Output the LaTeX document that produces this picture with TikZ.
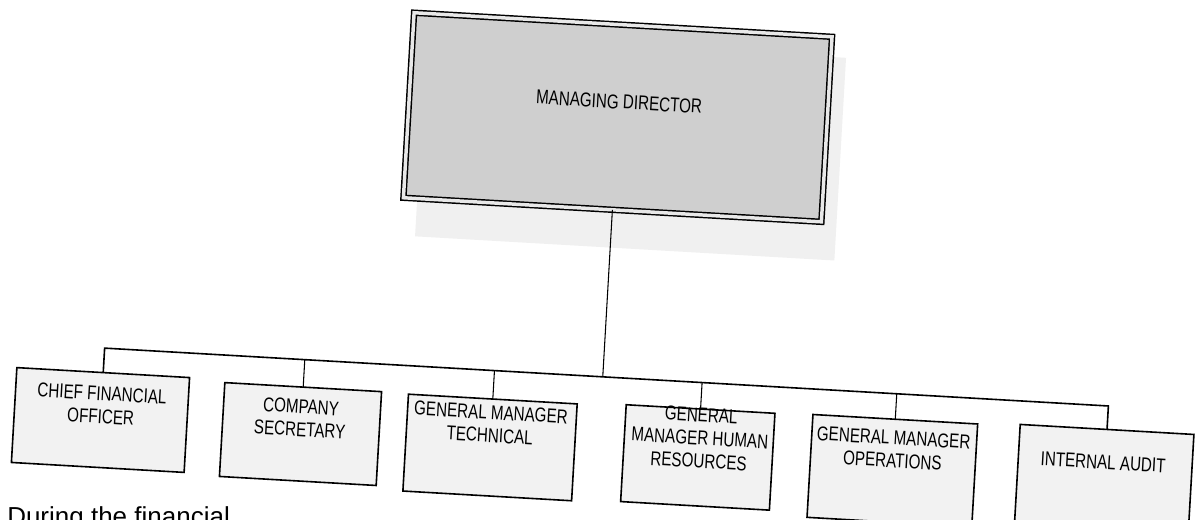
\documentclass[tikz,border=0pt]{standalone}
\usepackage{fontspec}
\setmainfont{Liberation Sans}
\newfontfamily\boxfont[FakeStretch=0.76]{Liberation Sans}
\begin{document}
\begin{tikzpicture}[x=0.75pt,y=-0.75pt,
  mdbox/.style={draw=black, line width=1.1pt, double=gray!18, double distance=2.6pt,
    fill=gray!38, inner sep=0pt, outer sep=0pt},
  shadowbox/.style={fill=gray!12},
  childbox/.style={draw=black, line width=1.2pt, fill=gray!10, inner sep=0pt, outer sep=0pt},
  boxtext/.style={font=\boxfont\fontsize{15}{17.25}\selectfont, align=center, inner sep=0pt},
  conn/.style={draw=black, line width=0.8pt},
  busline/.style={draw=black, line width=1.2pt, line join=miter},
  bodytext/.style={font=\fontsize{19.5}{23}\selectfont, inner sep=0pt, anchor=base west}]
\useasboundingbox (0,0) rectangle (1200,520);
\fill[white] (0,0) rectangle (1200,520);
\clip (0,0) rectangle (1200,520);
\begin{scope}[rotate around={-3.3:(600,260)}, transform shape]
  % shadow of the top box
  \fill[shadowbox] (414,44) rectangle (834,247);
  % top box
  \node[mdbox, minimum width=314pt, minimum height=139pt] (md) at (609.5,116.5) {};
  \node[boxtext] (tmd) at (610,101) {MANAGING DIRECTOR};
  % child boxes
  \node[childbox, minimum width=129.75pt, minimum height=71.25pt] (cfo) at (110.5,448.5) {};
  \node[childbox, minimum width=117.75pt, minimum height=70.5pt] (cs) at (311,451) {};
  \node[childbox, minimum width=126.75pt, minimum height=72.75pt] (gmt) at (501,453.5) {};
  \node[childbox, minimum width=111.75pt, minimum height=72.75pt] (gmhr) at (709,451.5) {};
  \node[childbox, minimum width=123.75pt, minimum height=77.25pt] (gmo) at (904,453.5) {};
  \node[childbox, minimum width=130.5pt, minimum height=78.75pt] (ia) at (1116,452.5) {};
  % texts
  \node[boxtext] (tcfo) at (110.5,433.5) {CHIEF FINANCIAL\\OFFICER};
  \node[boxtext] (tcs) at (310,435) {COMPANY\\SECRETARY};
  \node[boxtext] (tgmt) at (500,430) {GENERAL MANAGER\\TECHNICAL};
  \node[boxtext] (tgmhr) at (710,432) {GENERAL\\MANAGER HUMAN\\RESOURCES};
  \node[boxtext] (tgmo) at (903.5,432) {GENERAL MANAGER\\OPERATIONS};
  \node[boxtext] (tia) at (1114,433) {INTERNAL AUDIT};
  % bus coordinates
  \coordinate (j1) at (110.5,376.5);
  \coordinate (j2) at (311,376.5);
  \coordinate (j3) at (501,376.5);
  \coordinate (jm) at (609.5,376.5);
  \coordinate (j4) at (709,376.5);
  \coordinate (j5) at (904,376.5);
  \coordinate (j6) at (1116,376.5);
  % connectors
  \draw[conn] (md.south) -- (jm);
  \draw[busline] (cfo.north) -- (j1) -- (j6) -- (ia.north);
  \draw[conn] (j2) -- (cs.north);
  \draw[conn] (j3) -- (gmt.north);
  \draw[conn] (j4) -- (gmhr.north);
  \draw[conn] (j5) -- (gmo.north);
\end{scope}
\node[bodytext] (body) at (7,525) {During the financial};
\end{tikzpicture}
\end{document}
